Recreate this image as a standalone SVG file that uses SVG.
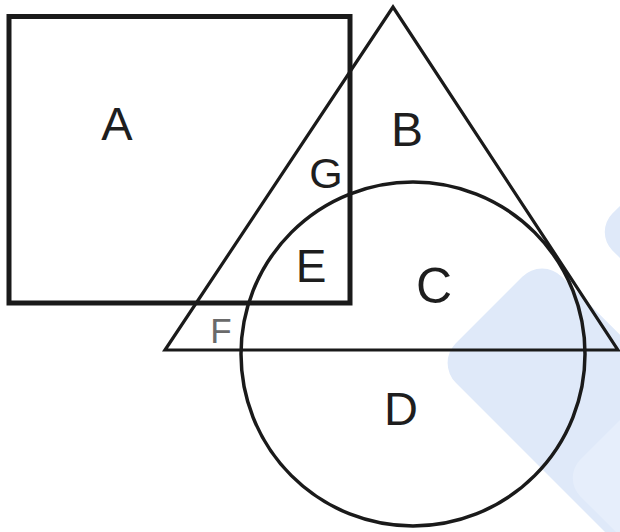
<svg xmlns="http://www.w3.org/2000/svg" width="620" height="532" viewBox="0 0 620 532">
<style>
.shape{fill:none;stroke:#1a1a1a;stroke-linejoin:miter}
.lbl{font-family:"Liberation Sans",Arial,sans-serif;fill:#1e1e1e;text-anchor:middle}
.wm{fill:#dfe9f9}
</style>
<rect width="620" height="532" fill="#ffffff"/>
<g id="watermark">
<rect class="wm" x="0" y="0" width="150" height="320" rx="28" transform="translate(436,363) rotate(-45)"/>
<rect class="wm" x="0" y="0" width="120" height="120" rx="26" transform="translate(594,232) rotate(-45)"/>
<rect x="0" y="0" width="120" height="160" rx="26" fill="#e6eefb" transform="translate(562,478) rotate(-45)"/>
</g>
<g id="square">
<rect class="shape" x="9" y="16.5" width="341" height="286.5" stroke-width="5"/>
</g>
<g id="triangle">
<polygon class="shape" points="393,7 165,350 618,350" stroke-width="3.2"/>
</g>
<g id="circle">
<circle class="shape" cx="413" cy="354" r="172" stroke-width="3.5"/>
</g>
<g id="labels">
<text class="lbl" x="117" y="140" font-size="47">A</text>
<text class="lbl" x="407" y="146" font-size="48">B</text>
<text class="lbl" x="326" y="188" font-size="43">G</text>
<text class="lbl" x="311" y="282" font-size="46">E</text>
<text class="lbl" x="434" y="303" font-size="50">C</text>
<text class="lbl" x="401" y="425" font-size="47">D</text>
<text class="lbl" x="221" y="343" font-size="35" style="fill:#6a6a6a">F</text>
</g>
</svg>
